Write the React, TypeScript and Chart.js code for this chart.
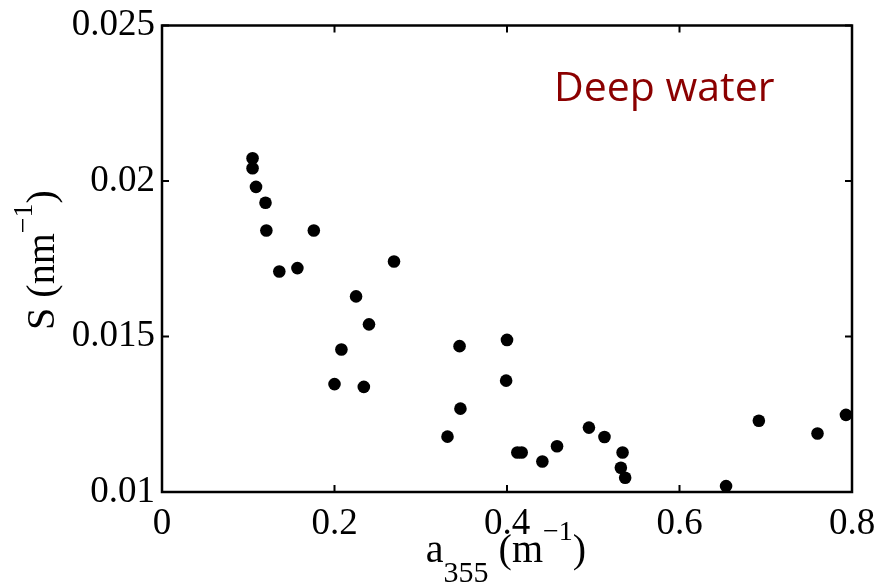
import React, { useEffect, useRef } from "react";
import { Chart, registerables } from "chart.js";

Chart.register(...registerables);

// Absorption coefficient a355 (m^-1)
const a355 = [
  0.105, 0.105, 0.109, 0.120, 0.121, 0.176, 0.136, 0.157, 0.269, 0.225,
  0.240, 0.208, 0.200, 0.234, 0.345, 0.400, 0.399, 0.346, 0.331, 0.412,
  0.417, 0.441, 0.458, 0.495, 0.513, 0.534, 0.532, 0.537, 0.654, 0.692,
  0.760, 0.793,
];
// Spectral slope S (nm^-1)
const slopeS = [
  0.02073, 0.02041, 0.01981, 0.0193, 0.01841, 0.01841, 0.01709, 0.0172, 0.01741, 0.01629,
  0.01539, 0.01458, 0.01347, 0.01338, 0.01469, 0.01489, 0.01358, 0.01268, 0.01178, 0.01127,
  0.01127, 0.01098, 0.01147, 0.01207, 0.01177, 0.01127, 0.01078, 0.01046, 0.01019, 0.01229,
  0.01188, 0.01248,
];
const xTicks = [0, 0.2, 0.4, 0.6, 0.8];
const yTicks = [0.01, 0.015, 0.02, 0.025];
const annotationText = "Deep water";

const SERIF = "'Liberation Serif', 'Times New Roman', serif";

type Seg = { text: string; size: number; dy: number };

function drawRich(ctx: CanvasRenderingContext2D, segs: Seg[], cx: number, baseline: number) {
  let total = 0;
  for (const s of segs) {
    ctx.font = `${s.size}px ${SERIF}`;
    total += ctx.measureText(s.text).width;
  }
  let x = cx - total / 2;
  ctx.textAlign = "left";
  ctx.textBaseline = "alphabetic";
  for (const s of segs) {
    ctx.font = `${s.size}px ${SERIF}`;
    ctx.fillText(s.text, x, baseline + s.dy);
    x += ctx.measureText(s.text).width;
  }
}

const framePlugin = {
  id: "framePlugin",
  afterDraw(chart: any) {
    const { ctx, chartArea, scales } = chart;
    const { left, right, top, bottom } = chartArea;
    ctx.save();
    ctx.strokeStyle = "#000";
    ctx.lineWidth = 2.5;
    ctx.strokeRect(left, top, right - left, bottom - top);
    ctx.lineWidth = 2;
    const tl = 7;
    ctx.beginPath();
    for (const v of xTicks) {
      const px = scales.x.getPixelForValue(v);
      ctx.moveTo(px, bottom);
      ctx.lineTo(px, bottom - tl);
      ctx.moveTo(px, top);
      ctx.lineTo(px, top + tl);
    }
    for (const v of yTicks) {
      const py = scales.y.getPixelForValue(v);
      ctx.moveTo(left, py);
      ctx.lineTo(left + tl, py);
      ctx.moveTo(right, py);
      ctx.lineTo(right - tl, py);
    }
    ctx.stroke();

    ctx.fillStyle = "#000";
    // X axis title: a_355 (m^-1)
    drawRich(
      ctx,
      [
        { text: "a", size: 40, dy: 0 },
        { text: "355", size: 30, dy: 20 },
        { text: " (m", size: 40, dy: 0 },
        { text: "\u22121", size: 28, dy: -22 },
        { text: ")", size: 40, dy: 0 },
      ],
      (left + right) / 2 - 1,
      562
    );
    // Y axis title: S (nm^-1)
    ctx.save();
    ctx.translate(54, 260);
    ctx.rotate(-Math.PI / 2);
    drawRich(
      ctx,
      [
        { text: "S (nm", size: 40, dy: 0 },
        { text: "\u22121", size: 28, dy: -22 },
        { text: ")", size: 40, dy: 0 },
      ],
      0,
      0
    );
    ctx.restore();

    // Annotation
    ctx.fillStyle = "#8B0000";
    ctx.font = "41px 'Open Sans', 'Liberation Sans', sans-serif";
    ctx.textAlign = "left";
    ctx.textBaseline = "alphabetic";
    ctx.fillText(annotationText, 554, 101);
    ctx.restore();
  },
};

export default function App() {
  const ref = useRef<HTMLCanvasElement | null>(null);
  useEffect(() => {
    if (!ref.current) return;
    const chart = new Chart(ref.current, {
      type: "scatter",
      data: {
        datasets: [
          {
            data: a355.map((x, i) => ({ x, y: slopeS[i] })),
            backgroundColor: "#000",
            borderColor: "#000",
            borderWidth: 0,
            pointRadius: 6.3,
            pointHoverRadius: 6.3,
          },
        ],
      },
      options: {
        animation: false,
        responsive: true,
        maintainAspectRatio: false,
        events: [],
        layout: { padding: { top: 23, right: 39, left: 0, bottom: 0 } },
        plugins: {
          legend: { display: false },
          tooltip: { enabled: false },
          title: { display: false },
        },
        scales: {
          x: {
            type: "linear",
            min: 0,
            max: 0.8,
            grid: { display: false, drawTicks: false },
            border: { display: false },
            afterBuildTicks: (s: any) => {
              s.ticks = xTicks.map((v) => ({ value: v }));
            },
            afterFit: (s: any) => {
              s.height = 96;
            },
            ticks: {
              color: "#000",
              font: { family: SERIF, size: 37, lineHeight: 1 },
              padding: 14,
              maxRotation: 0,
              autoSkip: false,
              callback: (v: any) => String(Number(Number(v).toFixed(3))),
            },
          },
          y: {
            type: "linear",
            min: 0.01,
            max: 0.025,
            grid: { display: false, drawTicks: false },
            border: { display: false },
            afterBuildTicks: (s: any) => {
              s.ticks = yTicks.map((v) => ({ value: v }));
            },
            afterFit: (s: any) => {
              s.width = 162;
            },
            ticks: {
              color: "#000",
              font: { family: SERIF, size: 37, lineHeight: 1 },
              padding: 7,
              autoSkip: false,
              callback: (v: any) => String(Number(Number(v).toFixed(4))),
            },
          },
        },
      },
      plugins: [framePlugin],
    });
    return () => chart.destroy();
  }, []);
  return (
    <div style={{ position: "absolute", left: 0, top: 0, width: 891, height: 588, background: "#fff" }}>
      <canvas ref={ref} />
    </div>
  );
}
